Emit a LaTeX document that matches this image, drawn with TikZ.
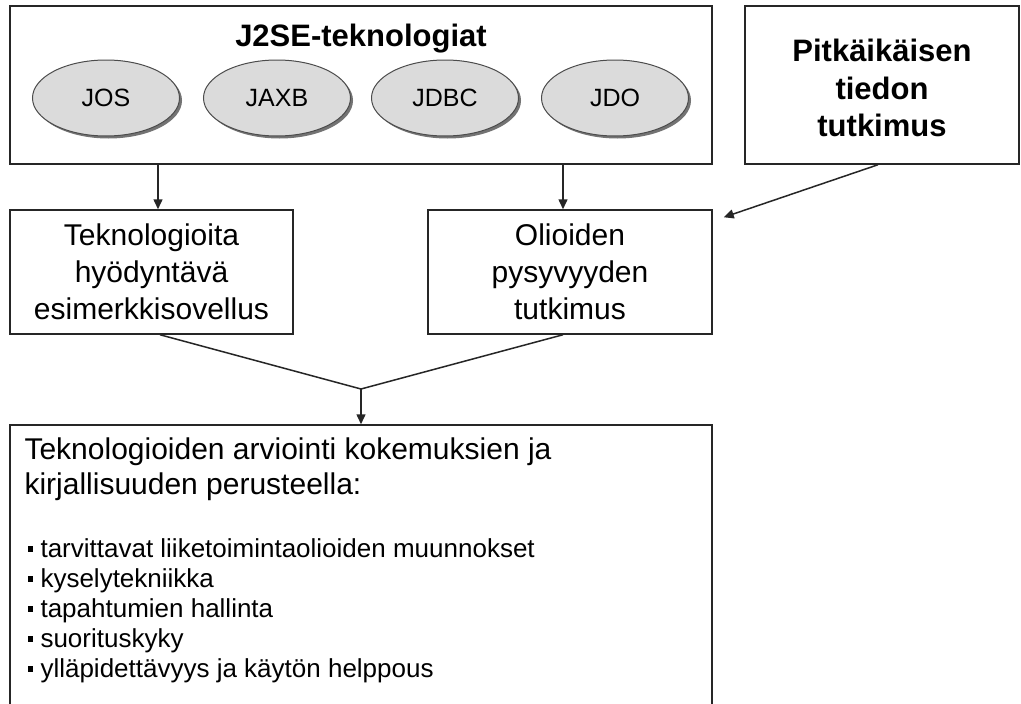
\documentclass[tikz,border=0pt]{standalone}
\usepackage{fontspec}
\setmainfont{Liberation Sans}
\usetikzlibrary{arrows.meta,shapes.geometric}

\tikzset{
  box/.style={draw=black!85, line width=1.5pt, rectangle, inner sep=0pt},
  tech/.style={ellipse, draw=black!70, line width=1pt, fill=black!14,
    minimum width=147pt, minimum height=76pt, inner sep=0pt,
    font=\fontsize{25}{29}\selectfont},
  techshadow/.style={ellipse, fill=black!55, minimum width=147pt,
    minimum height=76pt, inner sep=0pt},
  link/.style={draw=black!85, line width=1.5pt},
  arr/.style={link, -{Triangle[length=10pt,width=9pt]}},
  boxtext/.style={align=center, font=\fontsize{30}{37}\selectfont},
}
\newcommand{\sqbullet}{\rule[0.22em]{0.2em}{0.2em}\hspace{0.3em}}

\begin{document}
\begin{tikzpicture}[x=1pt,y=-1pt]
\useasboundingbox (0,0) rectangle (1021,704);
\clip (0,0) rectangle (1021,704);
\fill[white] (0,0) rectangle (1021,704);

% upper row
\node[box, minimum width=702pt, minimum height=158pt] (j2se) at (361,85) {};
\node[font=\bfseries\fontsize{31}{36}\selectfont] (j2setitle) at (361,39) {J2SE-teknologiat};

\foreach \nm/\x/\lab in {jos/106/JOS, jaxb/277/JAXB, jdbc/445/JDBC, jdo/615/JDO}{
  \node[techshadow] at (\x+2.5,98+2.5) {};
  \node[tech] (\nm) at (\x,98) {\lab};
}

\node[box, minimum width=274pt, minimum height=158pt] (pitka) at (882,85) {};
\node[align=center, font=\bfseries\fontsize{31}{37.5}\selectfont] (pitkatext) at (882,88)
  {Pitkäikäisen\\tiedon\\tutkimus};

% middle row
\node[box, minimum width=283pt, minimum height=124pt] (tek) at (151.5,272) {};
\node[boxtext] (tektext) at (151.5,272) {Teknologioita\\hyödyntävä\\esimerkkisovellus};

\node[box, minimum width=284pt, minimum height=124pt] (oli) at (570,272) {};
\node[boxtext] (olitext) at (570,272) {Olioiden\\pysyvyyden\\tutkimus};

% lower box, running past the lower edge
\node[box, minimum width=702pt, minimum height=300pt] (arv) at (361,575) {};
\node[anchor=north west, align=left, font=\fontsize{30}{35}\selectfont] (arvtext) at (21,434)
  {Teknologioiden arviointi kokemuksien ja\\kirjallisuuden perusteella:};
\node[anchor=north west, align=left, font=\fontsize{26}{30}\selectfont] (arvlist) at (24,535)
  {\sqbullet tarvittavat liiketoimintaolioiden muunnokset\\
   \sqbullet kyselytekniikka\\
   \sqbullet tapahtumien hallinta\\
   \sqbullet suorituskyky\\
   \sqbullet ylläpidettävyys ja käytön helppous};

% connectors
\draw[arr] ([xshift=6.5pt]tek.north |- j2se.south) -- ([xshift=6.5pt]tek.north);
\draw[arr] ([xshift=-7pt]oli.north |- j2se.south) -- ([xshift=-7pt]oli.north);
\draw[arr] ([xshift=-4pt]pitka.south) -- ([xshift=11pt,yshift=-8pt]oli.north east);

\coordinate (merge) at (361,389);
\draw[link] ([xshift=8.5pt]tek.south) -- (merge);
\draw[link] ([xshift=-7pt]oli.south) -- (merge);
\draw[arr] (merge) -- (arv.north);
\end{tikzpicture}
\end{document}
